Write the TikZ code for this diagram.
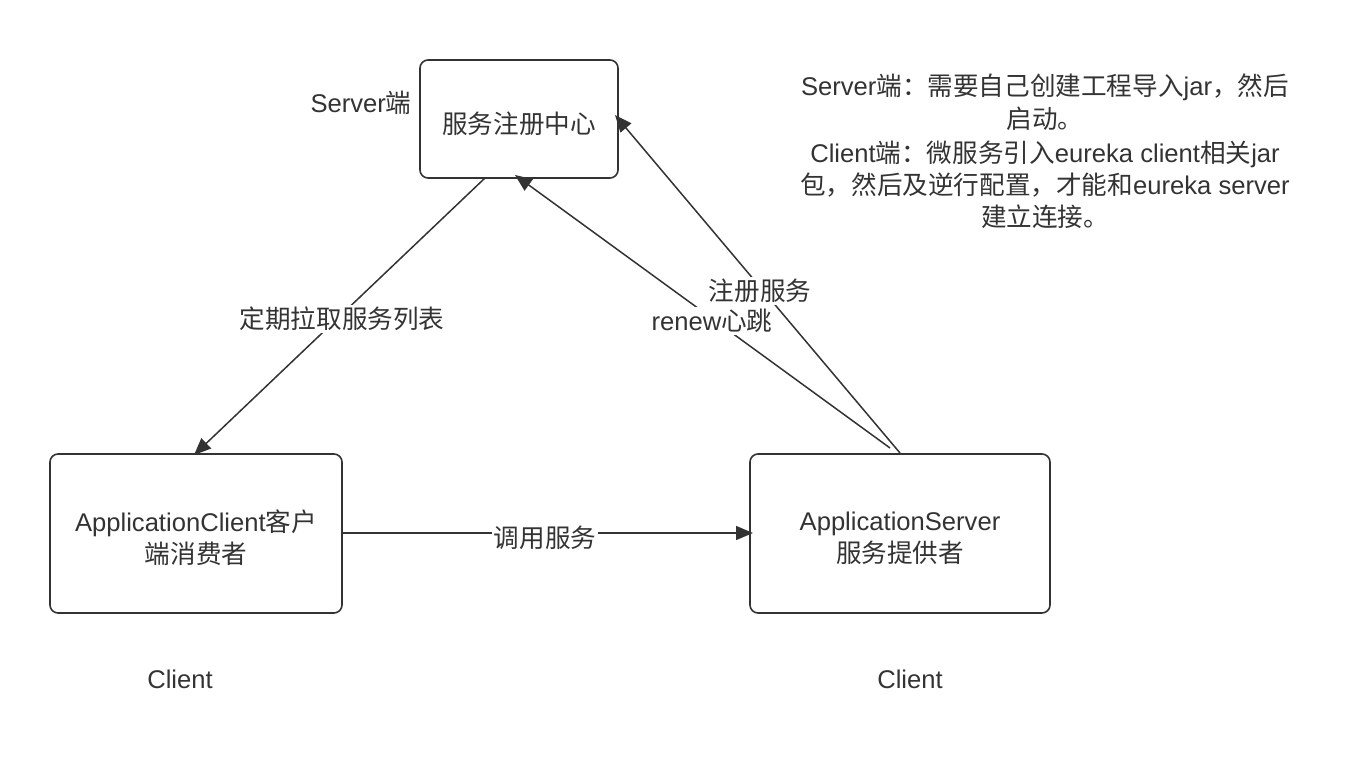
\documentclass[tikz,border=0pt]{standalone}
\usepackage{fontspec}
\setmainfont{Liberation Sans}
\newfontfamily\cjk{Noto Sans CJK SC}
\usetikzlibrary{arrows.meta}
\definecolor{ink}{HTML}{333333}
\begin{document}
\begin{tikzpicture}[x=0.5pt,y=-0.5pt,
  every node/.style={font=\fontsize{12.8}{16}\selectfont, text=ink},
  box/.style={draw=ink, line width=0.8pt, rounded corners=4pt},
  conn/.style={draw=ink, line width=0.75pt, -{Triangle[length=8.5pt,width=7pt]}},
  lbl/.style={fill=white, inner sep=1pt}]
\useasboundingbox (0,0) rectangle (1348,764);
% boxes
\draw[box] (420,60) rectangle (618,178);
\node (reg) at (519,124) {\cjk 服务注册中心};
\draw[box] (50,454) rectangle (342,613);
\node[align=center] (cli) at (196,538) {Application{}Client{\cjk 客户}\\{\cjk 端消费者}};
\draw[box] (750,454) rectangle (1050,613);
\node[align=center] (srv) at (900,538) {ApplicationServer\\{\cjk 服务提供者}};
% coordinates for connector ends
\coordinate (e1s) at (485,178);
\coordinate (e1t) at (194,455);
\coordinate (e2s) at (890,448);
\coordinate (e2t) at (515,175);
\coordinate (e3s) at (900,453);
\coordinate (e3t) at (615,115);
\coordinate (e4s) at (342,533);
\coordinate (e4t) at (753,533);
% connectors
\draw[conn] (e1s) -- (e1t);
\draw[conn] (e2s) -- (e2t);
\draw[conn] (e3s) -- (e3t);
\draw[conn] (e4s) -- (e4t);
% labels
\node[lbl] (l1) at (342,319) {\cjk 定期拉取服务列表};
\node[lbl] (l3) at (760,291) {\cjk 注册服务};
\node[lbl] (l2) at (712,321) {renew{\cjk 心跳}};
\node[lbl] (l4) at (545,538) {\cjk 调用服务};
% other texts
\node (st) at (361,103) {Server{\cjk 端}};
\node (c1) at (180,679) {Client};
\node (c2) at (910,679) {Client};
\node[align=center] (note) at (1045,151) {Server{\cjk 端：需要自己创建工程导入}jar{\cjk ，然后}\\[0.5pt]{\cjk 启动。}\\[1pt]Client{\cjk 端：微服务引入}eureka client{\cjk 相关}jar\\{\cjk 包，然后及逆行配置，才能和}eureka server\\{\cjk 建立连接。}};
\end{tikzpicture}
\end{document}
